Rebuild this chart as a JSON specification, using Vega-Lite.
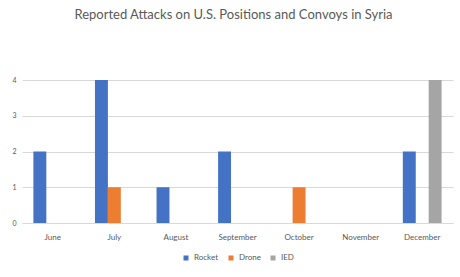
{
  "$schema": "https://vega.github.io/schema/vega-lite/v6.json",
  "width": 431,
  "height": 143,
  "autosize": {"type": "none"},
  "padding": {"left": 22, "top": 80, "right": 7, "bottom": 54},
  "background": "white",
  "config": {
    "font": "Lato",
    "view": {"stroke": null},
    "legend": {"layout": {"bottom": {"anchor": "middle"}}}
  },
  "title": {
    "text": "Reported Attacks on U.S. Positions and Convoys in Syria",
    "fontSize": 13,
    "fontWeight": "normal",
    "color": "#595959",
    "anchor": "middle",
    "frame": "group",
    "offset": 54,
    "dx": -4
  },
  "data": {
    "values": [
      {"month": "June", "type": "Rocket", "attacks": 2},
      {"month": "July", "type": "Rocket", "attacks": 4},
      {"month": "July", "type": "Drone", "attacks": 1},
      {"month": "August", "type": "Rocket", "attacks": 1},
      {"month": "September", "type": "Rocket", "attacks": 2},
      {"month": "October", "type": "Drone", "attacks": 1},
      {"month": "December", "type": "Rocket", "attacks": 2},
      {"month": "December", "type": "IED", "attacks": 4}
    ]
  },
  "mark": {"type": "bar"},
  "encoding": {
    "x": {
      "field": "month",
      "type": "nominal",
      "sort": ["June", "July", "August", "September", "October", "November", "December"],
      "scale": {
        "domain": ["June", "July", "August", "September", "October", "November", "December"],
        "paddingInner": 0.37,
        "paddingOuter": 0.185
      },
      "axis": {
        "title": null,
        "labelAngle": 0,
        "ticks": false,
        "domain": true,
        "domainColor": "#d9d9d9",
        "labelPadding": 10,
        "labelFontSize": 8,
        "labelColor": "#595959"
      }
    },
    "xOffset": {
      "field": "type",
      "type": "nominal",
      "sort": ["Rocket", "Drone", "IED"],
      "scale": {"domain": ["Rocket", "Drone", "IED"], "paddingInner": 0, "paddingOuter": 0}
    },
    "y": {
      "field": "attacks",
      "type": "quantitative",
      "scale": {"domain": [0, 4]},
      "axis": {
        "title": null,
        "values": [0, 1, 2, 3, 4],
        "labelOverlap": false,
        "ticks": false,
        "domain": false,
        "gridColor": "#d9d9d9",
        "labelFontSize": 7,
        "labelColor": "#595959",
        "labelPadding": 6
      }
    },
    "color": {
      "field": "type",
      "type": "nominal",
      "sort": ["Rocket", "Drone", "IED"],
      "scale": {"domain": ["Rocket", "Drone", "IED"], "range": ["#4472C4", "#ED7D31", "#A5A5A5"]},
      "legend": {
        "title": null,
        "orient": "bottom",
        "direction": "horizontal",
        "symbolType": "square",
        "symbolSize": 25,
        "symbolStrokeWidth": 0,
        "labelFontSize": 8,
        "labelColor": "#595959",
        "columnPadding": 8,
        "offset": 13
      }
    }
  }
}
